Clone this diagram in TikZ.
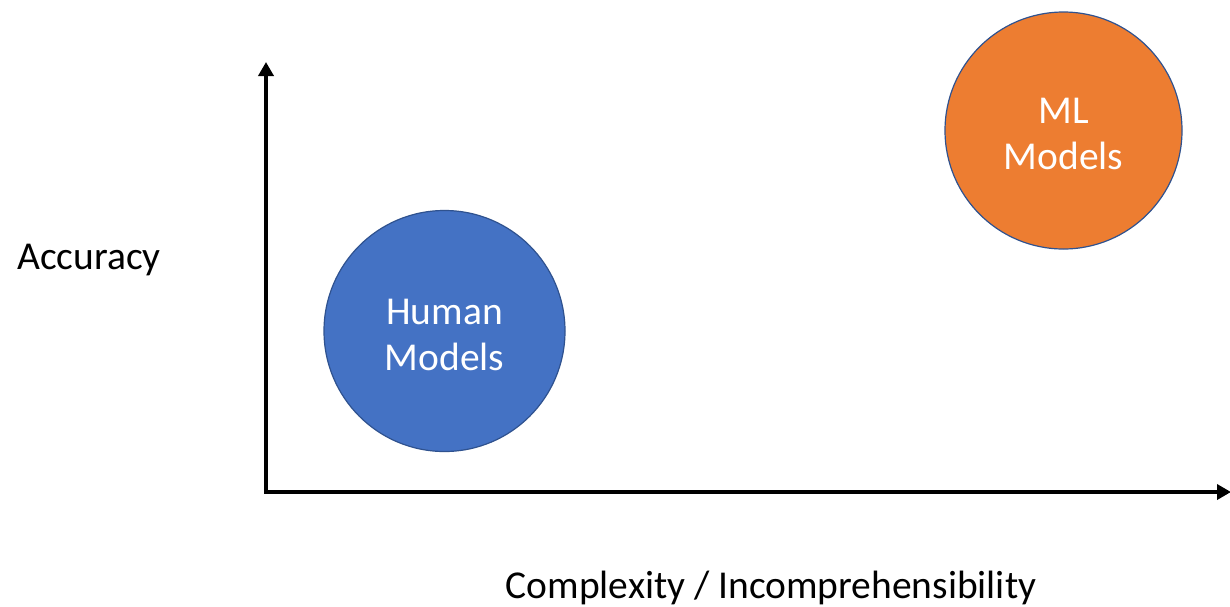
\documentclass[tikz,border=0pt]{standalone}
\usepackage{fontspec}
\setmainfont{Carlito}
\usetikzlibrary{arrows.meta,positioning}

\definecolor{humanblue}{HTML}{4472C4}
\definecolor{mlorange}{HTML}{ED7D31}
\definecolor{rimblue}{HTML}{2F528F}

\begin{document}
\begin{tikzpicture}[
    x=1pt, y=-1pt,
    axis/.style = {line width=3.6pt, -{Triangle[length=14pt,width=15pt]}},
    model/.style = {circle, draw=rimblue, line width=1.2pt, minimum size=#1, inner sep=0pt},
    modeltext/.style = {text=white, align=center, yshift=-3.5pt, font=\fontsize{39.5}{46}\selectfont},
    axislabel/.style = {font=\fontsize{39.5}{46}\selectfont}
    ]
    \useasboundingbox (0,0) rectangle (1230,606);

    \coordinate (origin) at (266,492);
    \coordinate (ytop) at (266,62);
    \coordinate (xend) at (1231,492);

    \node[model=241pt, fill=humanblue,
          label={[modeltext]center:Human\\Models}] (human) at (444.5,331) {};
    \node[model=237pt, fill=mlorange,
          label={[modeltext]center:ML\\Models}] (ml) at (1063.5,130.5) {};

    \node[axislabel] (acc) at (89,260) {Accuracy};
    \node[axislabel] (complex) at (771,588) {Complexity / Incomprehensibility};

    \draw[axis] ([yshift=1.8pt]origin) -- (ytop);
    \draw[axis] ([xshift=-1.8pt]origin) -- (xend);
\end{tikzpicture}
\end{document}
